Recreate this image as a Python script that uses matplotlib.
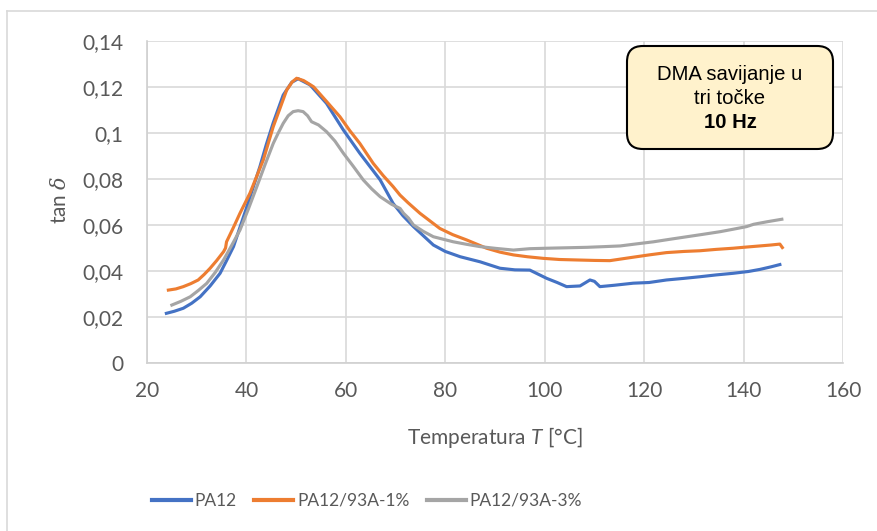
import matplotlib.pyplot as plt
from matplotlib.patches import FancyBboxPatch
from matplotlib.lines import Line2D

# PA12
t_pa12 = [23.9, 25.5, 27.3, 29.0, 30.7, 32.7, 34.7, 36.0, 37.4, 38.7, 40.1, 42.7, 44.0, 45.4,
          47.4, 49.1, 50.4, 52.8, 56.1, 59.5, 62.8, 66.9, 69.5, 71.5, 73.6, 77.6, 80.0, 83.0,
          87.0, 91.0, 94.0, 97.0, 100.4, 102.5, 104.4, 107.1, 109.1, 110.0, 111.1, 114.0,
          117.8, 121.0, 124.5, 128.0, 131.2, 134.5, 137.9, 141.0, 143.3, 145.5, 147.3]
tan_pa12 = [0.0216, 0.0225, 0.0238, 0.026, 0.0288, 0.0335, 0.039, 0.0445, 0.0506, 0.059, 0.068,
            0.0853, 0.095, 0.1045, 0.1165, 0.1220, 0.1236, 0.1209, 0.1129, 0.1013, 0.0912,
            0.0796, 0.0694, 0.064, 0.0593, 0.0513, 0.0485, 0.0462, 0.0440, 0.0412, 0.0405,
            0.0404, 0.0368, 0.035, 0.0332, 0.0335, 0.0361, 0.0355, 0.0332, 0.0338, 0.0347,
            0.0350, 0.0361, 0.0368, 0.0375, 0.0383, 0.039, 0.0398, 0.0407, 0.0418, 0.0428]

# PA12/93A-1%
t_1 = [24.3, 25.8, 27.3, 28.8, 30.3, 31.5, 32.7, 34.0, 35.4, 35.8, 36.0, 37.4, 38.7, 40.7,
       43.4, 45.4, 46.8, 48.1, 49.2, 50.1, 51.5, 53.5, 56.0, 58.8, 60.8, 62.8, 65.5, 67.5,
       69.5, 70.9, 72.5, 74.9, 76.9, 78.9, 81.5, 84.3, 88.3, 91.0, 93.7, 96.5, 99.7, 103.0,
       106.4, 110.0, 113.1, 117.8, 121.0, 124.5, 128.0, 131.2, 134.5, 137.9, 140.5, 143.3,
       145.5, 147.3, 147.8]
tan_1 = [0.0317, 0.0322, 0.0332, 0.0345, 0.0361, 0.0385, 0.0412, 0.0445, 0.0484, 0.0500,
         0.0527, 0.059, 0.0651, 0.0738, 0.0883, 0.1028, 0.111, 0.1187, 0.1222, 0.1238, 0.1228,
         0.1201, 0.1140, 0.1071, 0.1010, 0.0955, 0.0868, 0.0815, 0.0767, 0.073, 0.0697,
         0.0651, 0.0618, 0.0585, 0.0558, 0.0535, 0.0499, 0.0482, 0.047, 0.0462, 0.0455,
         0.0450, 0.0448, 0.0446, 0.0445, 0.046, 0.0470, 0.048, 0.0485, 0.0488, 0.0494,
         0.0499, 0.0504, 0.0509, 0.0513, 0.0517, 0.0502]

# PA12/93A-3%
t_3 = [25.0, 26.8, 28.7, 30.3, 32.0, 33.7, 35.4, 37.0, 38.7, 40.4, 42.1, 43.7, 45.4, 46.4,
       47.4, 48.4, 49.4, 50.4, 51.4, 52.3, 53.1, 54.5, 56.1, 57.8, 59.5, 61.5, 63.5, 65.2,
       66.9, 69.2, 70.9, 71.6, 72.6, 73.6, 75.6, 77.6, 79.6, 81.6, 84.3, 87.0, 90.3, 93.7,
       97.0, 100.4, 104.5, 108.5, 112.0, 115.2, 118.5, 121.9, 125.2, 128.6, 132.0, 135.3,
       138.0, 140.6, 142.0, 144.7, 147.7]
tan_3 = [0.0252, 0.0268, 0.0288, 0.0315, 0.0346, 0.0393, 0.0448, 0.051, 0.0578, 0.067,
         0.0767, 0.0860, 0.0955, 0.1000, 0.1042, 0.1075, 0.1093, 0.1097, 0.1093, 0.1075,
         0.1049, 0.1035, 0.1006, 0.0965, 0.0912, 0.0855, 0.0796, 0.0757, 0.0723, 0.0690,
         0.0672, 0.0651, 0.0630, 0.060, 0.0572, 0.0549, 0.0538, 0.0527, 0.0516, 0.0506,
         0.0498, 0.0491, 0.0497, 0.0499, 0.0501, 0.0503, 0.0506, 0.0509, 0.0518, 0.0527,
         0.0538, 0.0549, 0.0560, 0.0571, 0.0582, 0.0593, 0.0603, 0.0614, 0.0625]

x_ticks = [20, 40, 60, 80, 100, 120, 140, 160]
y_ticks = [0, 0.02, 0.04, 0.06, 0.08, 0.1, 0.12, 0.14]
y_labels = ['0', '0,02', '0,04', '0,06', '0,08', '0,1', '0,12', '0,14']

plt.rcParams['font.family'] = ['Lato', 'DejaVu Sans']
plt.rcParams['mathtext.fontset'] = 'custom'
plt.rcParams['mathtext.rm'] = 'Lato'
plt.rcParams['mathtext.it'] = 'Lato:italic'
txt = '#595959'
grid = '#D9D9D9'

fig = plt.figure(figsize=(8.78, 5.31), dpi=100)
ax = fig.add_axes([147 / 878, 1 - 363 / 531, 696 / 878, 322 / 531])

ax.plot(t_pa12, tan_pa12, color='#4472C4', lw=2.25, label='PA12')
ax.plot(t_1, tan_1, color='#ED7D31', lw=2.25, label='PA12/93A-1%')
ax.plot(t_3, tan_3, color='#A5A5A5', lw=2.25, label='PA12/93A-3%')

ax.set_xlim(20, 160)
ax.set_ylim(0, 0.14)
ax.set_xticks(x_ticks)
ax.set_yticks(y_ticks)
ax.set_yticklabels(y_labels)
ax.tick_params(length=0, labelsize=15, colors=txt)
ax.tick_params(axis='x', pad=13)
ax.tick_params(axis='y', pad=17)
ax.grid(True, color=grid, lw=1.2)
ax.set_axisbelow(True)
for s in ['top', 'right']:
    ax.spines[s].set_visible(False)
for s in ['left', 'bottom']:
    ax.spines[s].set_color('#D0D0D0')
    ax.spines[s].set_linewidth(1.2)

fig.text(60 / 878, 1 - 200 / 531, r'tan $\delta$', rotation=90, ha='center', va='center',
         fontsize=15, color=txt, math_fontfamily='dejavuserif')
fig.text(495 / 878, 1 - 437 / 531, r'Temperatura $T$ [°C]', ha='center', va='center',
         fontsize=15, color=txt)

# note box
box = FancyBboxPatch((627 / 878, 1 - 149 / 531), 206 / 878, 103 / 531,
                     boxstyle='round,pad=0,rounding_size=0.018', mutation_aspect=878 / 531,
                     transform=fig.transFigure, facecolor='#FFF2CC', edgecolor='black', lw=1.5)
fig.patches.append(box)
fig.text(730 / 878, 1 - 75 / 531, 'DMA savijanje u', ha='center', va='center', fontsize=14.6,
         family='Liberation Sans')
fig.text(730 / 878, 1 - 98 / 531, 'tri točke', ha='center', va='center', fontsize=14.6,
         family='Liberation Sans')
fig.text(730 / 878, 1 - 122 / 531, '10 Hz', ha='center', va='center', fontsize=14.6,
         family='Liberation Sans', weight='bold')

# chart border
fig.add_artist(Line2D([7 / 878, 7 / 878], [0, 1 - 11 / 531], transform=fig.transFigure,
                      color=grid, lw=1.2))
fig.add_artist(Line2D([7 / 878, 1], [1 - 11 / 531, 1 - 11 / 531], transform=fig.transFigure,
                      color=grid, lw=1.2))

leg = fig.legend(loc='center', bbox_to_anchor=(367 / 878, 1 - 501 / 531), ncol=3, frameon=False,
                 fontsize=12.5, handlelength=2.25, handletextpad=0.2, columnspacing=1.0)
for t in leg.get_texts():
    t.set_color(txt)
for h in leg.get_lines():
    h.set_linewidth(3)

fig.savefig('out.png', dpi=100)
